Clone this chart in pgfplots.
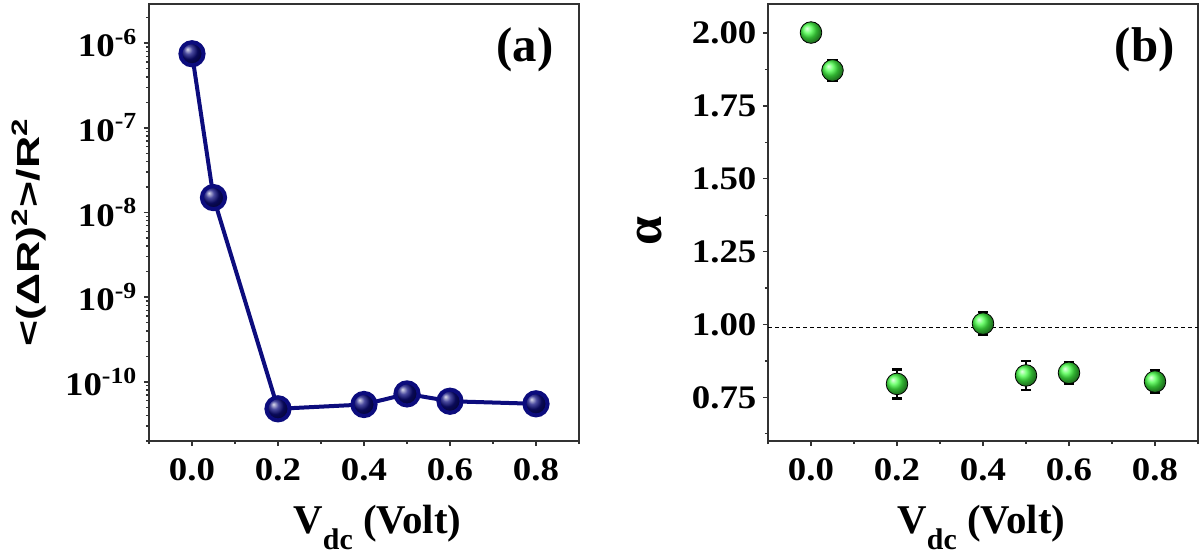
\documentclass[border=0pt]{standalone}
\usepackage{fontspec}
\setmainfont{Liberation Serif}
\newfontfamily\sansf{Liberation Sans}
\usepackage{graphicx}
\usepackage{pgfplots}
\pgfplotsset{compat=1.18}
\definecolor{navyb}{RGB}{12,12,125}
\definecolor{greenb}{RGB}{70,255,70}
\definecolor{axgray}{RGB}{50,50,50}
\newcommand{\T}[1]{\scalebox{1.12}[1]{\fontsize{16.5}{18}\selectfont\bfseries #1}}
\newcommand{\E}[1]{\T{10\textsuperscript{-#1}}}
\pgfplotsset{
  common/.style={
    scale only axis, width=215bp, height=218.5bp,
    xmin=-0.1, xmax=0.9,
    xtick={0,0.2,0.4,0.6,0.8},
    xticklabels={\T{0.0},\T{0.2},\T{0.4},\T{0.6},\T{0.8}},
    minor xtick={-0.1,0.1,0.3,0.5,0.7,0.9},
    tick align=outside, tick pos=left,
    major tick length=2.6bp, minor tick length=1.6bp,
    every tick/.style={axgray, line width=0.7bp},
    axis line style={axgray, line width=0.75bp},
    xticklabel style={inner sep=0pt, yshift=-6bp},
    yticklabel style={inner sep=0pt, xshift=-3bp},
    clip=false,
  }
}
\begin{document}
\begin{tikzpicture}
\useasboundingbox (0,0) rectangle (600bp,278.5bp);
\begin{axis}[common, at={(74.5bp,58bp)}, anchor=south west,
  ymode=log, ymin=2e-11, ymax=2.9e-6,
  ytick={1e-10,1e-9,1e-8,1e-7,1e-6},
  yticklabels={\E{10},\E{9},\E{8},\E{7},\E{6}},
  minor ytick={2e-11,3e-11,4e-11,5e-11,6e-11,7e-11,8e-11,9e-11,
    2e-10,3e-10,4e-10,5e-10,6e-10,7e-10,8e-10,9e-10,
    2e-9,3e-9,4e-9,5e-9,6e-9,7e-9,8e-9,9e-9,
    2e-8,3e-8,4e-8,5e-8,6e-8,7e-8,8e-8,9e-8,
    2e-7,3e-7,4e-7,5e-7,6e-7,7e-7,8e-7,9e-7,2e-6},
  xlabel={\fontsize{20.5}{24}\selectfont\bfseries V\raisebox{-0.4em}{\fontsize{15}{16}\selectfont dc} (Volt)},
  xlabel style={at={(axis description cs:0.335,-0.212)}, anchor=base west, inner sep=0pt},
  ylabel={\sansf\bfseries\fontsize{16}{18}\selectfont\scalebox{1.4}[1]{<(ΔR)\textsuperscript{2}>/R\textsuperscript{2}}},
  ylabel style={at={(axis description cs:-0.279,0.478)}, anchor=center, inner sep=0pt},
]
\addplot[navyb, line width=2bp, mark=ball, mark size=5.8bp, mark options={ball color=navyb}]
  coordinates {(0,7.5e-7) (0.05,1.5e-8) (0.2,4.8e-11) (0.4,5.4e-11) (0.5,7.2e-11) (0.6,5.9e-11) (0.8,5.5e-11)};
\node at (rel axis cs:0.874,0.895) {\fontsize{24.5}{28}\selectfont\bfseries (a)};
\end{axis}
\begin{axis}[common, at={(384bp,58bp)}, anchor=south west,
  ymin=0.6, ymax=2.1,
  ytick={0.75,1,1.25,1.5,1.75,2},
  yticklabels={\T{0.75},\T{1.00},\T{1.25},\T{1.50},\T{1.75},\T{2.00}},
  minor ytick={0.625,0.875,1.125,1.375,1.625,1.875},
  xlabel={\fontsize{20.5}{24}\selectfont\bfseries V\raisebox{-0.4em}{\fontsize{15}{16}\selectfont dc} (Volt)},
  xlabel style={at={(axis description cs:0.30,-0.212)}, anchor=base west, inner sep=0pt},
  ylabel={\fontsize{26}{28}\selectfont\bfseries α},
  ylabel style={at={(axis description cs:-0.275,0.48)}, anchor=center, inner sep=0pt},
]
\addplot[black, line width=0.6bp, dash pattern=on 2bp off 1.5bp] coordinates {(-0.1,0.99) (0.9,0.99)};
\addplot[only marks, mark=ball, mark size=5.4bp, mark options={ball color=greenb}]
  coordinates {(0,2.002) (0.05,1.872) (0.2,0.796) (0.4,1.003) (0.5,0.825) (0.6,0.834) (0.8,0.804)};
\addplot[draw=none,
  error bars/.cd, y dir=both, y explicit,
  error bar style={draw=black, solid, line width=1.2bp},
  error mark options={rotate=90, mark size=2.6bp, draw=black, line width=1.2bp}]
  coordinates {
  (0,2.002) +- (0,0.03)
  (0.05,1.872) +- (0,0.034)
  (0.2,0.796) +- (0,0.05)
  (0.4,1.003) +- (0,0.04)
  (0.5,0.825) +- (0,0.05)
  (0.6,0.834) +- (0,0.036)
  (0.8,0.804) +- (0,0.04)
  };
\node at (rel axis cs:0.876,0.895) {\fontsize{24.5}{28}\selectfont\bfseries (b)};
\end{axis}
\end{tikzpicture}
\end{document}
